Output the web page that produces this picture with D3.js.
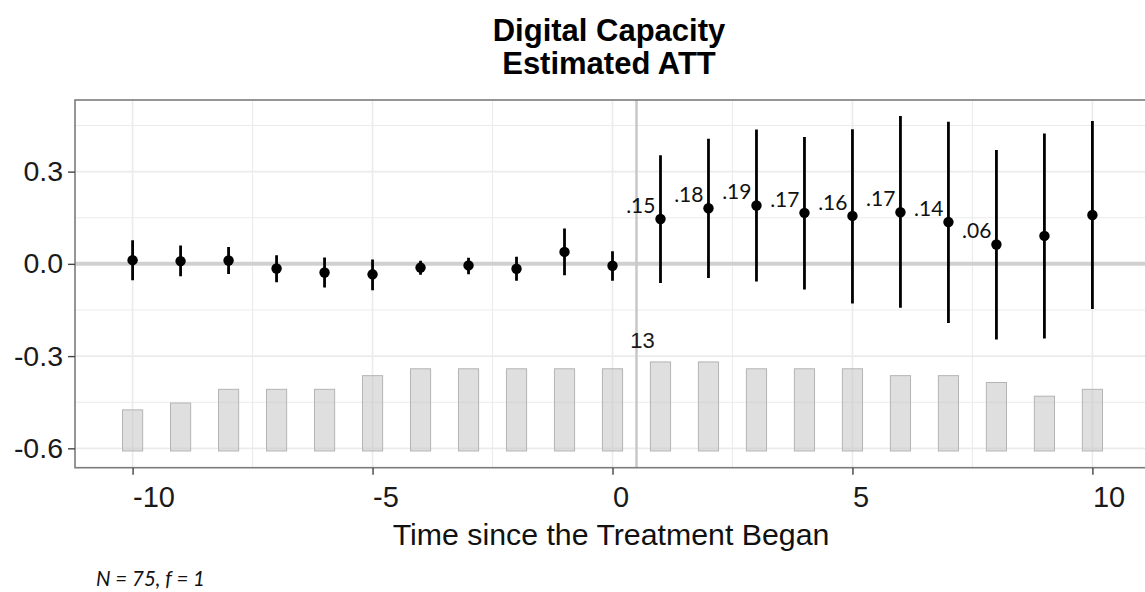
<!DOCTYPE html>
<html>
<head>
<meta charset="utf-8">
<script src="https://cdn.jsdelivr.net/npm/d3@7"></script>
<style>
  body { margin: 0; background: #fff; }
  svg { display: block; }
</style>
</head>
<body>
<svg id="chart" width="1145" height="592"></svg>
<script>
// Event-study estimates: time relative to treatment onset
const periods = [-10, -9, -8, -7, -6, -5, -4, -3, -2, -1, 0, 1, 2, 3, 4, 5, 6, 7, 8, 9, 10];
const att = [0.012, 0.009, 0.011, -0.015, -0.028, -0.034, -0.012, -0.005, -0.016, 0.039, -0.006,
             0.146, 0.181, 0.190, 0.166, 0.156, 0.168, 0.136, 0.063, 0.091, 0.159];
const ciLower = [-0.053, -0.040, -0.033, -0.060, -0.077, -0.086, -0.035, -0.034, -0.055, -0.037, -0.055,
                 -0.062, -0.046, -0.057, -0.083, -0.129, -0.143, -0.192, -0.246, -0.243, -0.147];
const ciUpper = [0.077, 0.060, 0.055, 0.028, 0.021, 0.014, 0.010, 0.020, 0.023, 0.115, 0.041,
                 0.353, 0.407, 0.437, 0.413, 0.438, 0.481, 0.462, 0.370, 0.424, 0.465];
// Number of treated units observed at each relative period
const unitCounts = [6, 7, 9, 9, 9, 11, 12, 12, 12, 12, 12, 13, 13, 12, 12, 12, 11, 11, 10, 8, 9];
// Post-treatment periods whose estimate is printed
const labelledPeriods = [1, 2, 3, 4, 5, 6, 7, 8];

const xTicks = [-10, -5, 0, 5, 10];
const xMinor = [-7.5, -2.5, 2.5, 7.5];
const yTicks = [-0.6, -0.3, 0.0, 0.3];
const yMinor = [-0.45, -0.15, 0.15, 0.45];

const titleLines = ["Digital Capacity", "Estimated ATT"];
const xTitle = "Time since the Treatment Began";
const note = "N = 75, f = 1";

const rows = periods.map((t, i) => ({
  t, est: att[i], lo: ciLower[i], hi: ciUpper[i], n: unitCounts[i]
}));

const svg = d3.select("#chart");
const panel = { left: 75, right: 1150, top: 100, bottom: 467.7 };

const x = d3.scaleLinear().domain([-11.2, 11.2]).range([panel.left, panel.right]);
const y = d3.scaleLinear().domain([-0.663, 0.533]).range([panel.bottom, panel.top]);
// Unit-count bars sit at the bottom of the panel
const countToY = d3.scaleLinear().domain([0, 13]).range([-0.6086, -0.319]);

svg.append("clipPath").attr("id", "panel-clip")
  .append("rect")
  .attr("x", panel.left).attr("y", panel.top)
  .attr("width", panel.right - panel.left).attr("height", panel.bottom - panel.top);

const g = svg.append("g").attr("clip-path", "url(#panel-clip)");

// Grid
const gridColor = "#ebebeb";
g.selectAll("line.vminor").data(xMinor).join("line")
  .attr("x1", d => x(d)).attr("x2", d => x(d))
  .attr("y1", panel.top).attr("y2", panel.bottom)
  .attr("stroke", gridColor).attr("stroke-width", 1.1);
g.selectAll("line.hminor").data(yMinor).join("line")
  .attr("y1", d => y(d)).attr("y2", d => y(d))
  .attr("x1", panel.left).attr("x2", panel.right)
  .attr("stroke", gridColor).attr("stroke-width", 1.1);
g.selectAll("line.vmajor").data(xTicks).join("line")
  .attr("x1", d => x(d)).attr("x2", d => x(d))
  .attr("y1", panel.top).attr("y2", panel.bottom)
  .attr("stroke", gridColor).attr("stroke-width", 1.6);
g.selectAll("line.hmajor").data(yTicks).join("line")
  .attr("y1", d => y(d)).attr("y2", d => y(d))
  .attr("x1", panel.left).attr("x2", panel.right)
  .attr("stroke", gridColor).attr("stroke-width", 1.6);

// Unit-count bars
const halfBar = 0.21;
g.selectAll("rect.count").data(rows).join("rect")
  .attr("x", d => x(d.t - halfBar))
  .attr("width", d => x(d.t + halfBar) - x(d.t - halfBar))
  .attr("y", d => y(countToY(d.n)))
  .attr("height", d => y(countToY(0)) - y(countToY(d.n)))
  .attr("fill", "#c4c4c4").attr("fill-opacity", 0.55)
  .attr("stroke", "#b4b4b4").attr("stroke-width", 1);

// Largest count printed above the bars
const maxRow = rows.reduce((a, b) => (b.n > a.n ? b : a));
svg.append("text")
  .attr("x", x(maxRow.t) - 18)
  .attr("y", y(countToY(maxRow.n)) - 14)
  .attr("text-anchor", "middle")
  .attr("font-family", "Liberation Sans, Arial, sans-serif")
  .attr("font-size", 22).attr("fill", "#1a1a1a")
  .text(maxRow.n);

// Reference lines: zero effect and treatment onset
g.append("line")
  .attr("x1", panel.left).attr("x2", panel.right)
  .attr("y1", y(0)).attr("y2", y(0))
  .attr("stroke", "#d0d0d0").attr("stroke-width", 4);
g.append("line")
  .attr("x1", x(0.5)).attr("x2", x(0.5))
  .attr("y1", panel.top).attr("y2", panel.bottom)
  .attr("stroke", "#c8c8c8").attr("stroke-width", 2.5);

// Confidence intervals and point estimates
g.selectAll("line.ci").data(rows).join("line")
  .attr("x1", d => x(d.t)).attr("x2", d => x(d.t))
  .attr("y1", d => y(d.lo)).attr("y2", d => y(d.hi))
  .attr("stroke", "#000").attr("stroke-width", 2.8);
g.selectAll("circle.est").data(rows).join("circle")
  .attr("cx", d => x(d.t)).attr("cy", d => y(d.est))
  .attr("r", 5.2).attr("fill", "#000");

// Printed estimates
const fmt = v => d3.format(".2f")(v).replace(/^0/, "").replace(/^-0/, "-");
svg.selectAll("text.est").data(rows.filter(d => labelledPeriods.includes(d.t))).join("text")
  .attr("x", d => x(d.t) - 5)
  .attr("y", d => y(d.est) - 6)
  .attr("text-anchor", "end")
  .attr("font-family", "Lato, 'Open Sans', sans-serif")
  .attr("font-size", 21).attr("fill", "#111")
  .text(d => fmt(d.est));

// Panel border (right edge falls beyond the canvas)
svg.append("rect")
  .attr("x", panel.left).attr("y", panel.top)
  .attr("width", panel.right - panel.left).attr("height", panel.bottom - panel.top)
  .attr("fill", "none").attr("stroke", "#7c7c7c").attr("stroke-width", 1.6);

// Axes
const axisFont = "Liberation Sans, Arial, sans-serif";
const yAxis = svg.append("g")
  .attr("transform", `translate(${panel.left},0)`)
  .call(d3.axisLeft(y).tickValues(yTicks).tickFormat(d3.format(".1f")).tickSize(7).tickPadding(5));
yAxis.select(".domain").remove();
yAxis.selectAll(".tick line").attr("stroke", "#444").attr("stroke-width", 1.4);
yAxis.selectAll(".tick text")
  .attr("font-family", axisFont).attr("font-size", 28.5).attr("fill", "#1a1a1a")
  .text(d => d3.format(".1f")(d).replace("−", "-"));

const xAxis = svg.append("g")
  .attr("transform", `translate(0,${panel.bottom})`)
  .call(d3.axisBottom(x).tickValues(xTicks).tickSize(7).tickPadding(10));
xAxis.select(".domain").remove();
xAxis.selectAll(".tick line").attr("stroke", "#444").attr("stroke-width", 1.4);
xAxis.selectAll(".tick text")
  .attr("font-family", axisFont).attr("font-size", 29).attr("fill", "#1a1a1a")
  .attr("text-anchor", "start")
  .attr("dy", null).attr("y", 39)
  .text(d => String(d));

// Axis title
svg.append("text")
  .attr("x", 611).attr("y", 545)
  .attr("text-anchor", "middle")
  .attr("font-family", axisFont).attr("font-size", 30.3).attr("fill", "#111")
  .text(xTitle);

// Title
svg.append("g").selectAll("text").data(titleLines).join("text")
  .attr("x", 609).attr("y", (d, i) => 41 + i * 33)
  .attr("text-anchor", "middle")
  .attr("font-family", axisFont).attr("font-weight", "bold")
  .attr("font-size", 31).attr("fill", "#000")
  .text(d => d);

// Footnote
svg.append("text")
  .attr("x", 96).attr("y", 586)
  .attr("font-family", "Lato, 'Open Sans', sans-serif")
  .attr("font-style", "italic").attr("font-size", 20.5).attr("fill", "#111")
  .text(note);
</script>
</body>
</html>
